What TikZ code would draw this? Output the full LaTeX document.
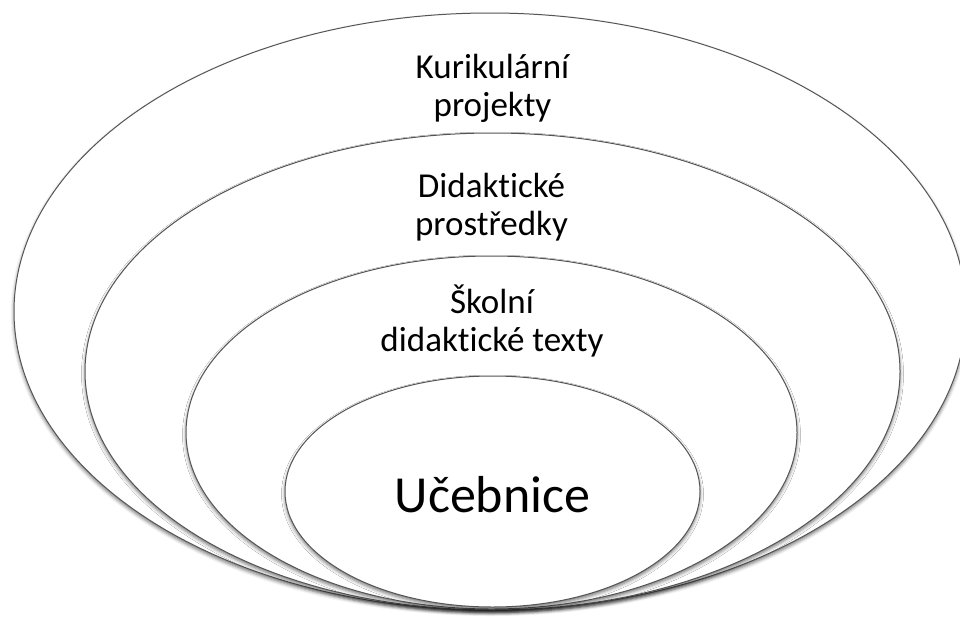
\documentclass[tikz,border=0pt]{standalone}
\usepackage{fontspec}
\setmainfont{Carlito}[Ligatures=NoCommon]
\usetikzlibrary{shapes.geometric,shadows.blur}
\definecolor{ringgray}{RGB}{85,85,85}
\begin{document}
\begin{tikzpicture}[x=1pt,y=-1pt,
  ring/.style={ellipse, draw=ringgray, line width=1pt, fill=white, inner sep=0pt, outer sep=0pt,
    blur shadow={shadow xshift=0pt, shadow yshift=-2.5pt, shadow blur radius=3.5pt, shadow opacity=55}},
  lbl/.style={font=\fontsize{35}{38}\selectfont, anchor=base, inner sep=0pt},
  biglbl/.style={font=\fontsize{52}{60}\selectfont, anchor=base, inner sep=0pt}]
\useasboundingbox (0,0) rectangle (960,616);
\node[ring, minimum width=952pt, minimum height=597pt] (e1) at (490,311.5) {};
\node[ring, minimum width=815pt, minimum height=477pt] (e2) at (492.5,371.5) {};
\node[ring, minimum width=611pt, minimum height=353pt] (e3) at (491.5,432.5) {};
\node[ring, minimum width=415pt, minimum height=231pt] (e4) at (492.5,491.5) {};
\node[lbl] (t1a) at (492.5,78) {Kurikulární};
\node[lbl] (t1b) at (492.5,116) {projekty};
\node[lbl] (t2a) at (491.5,197) {Didaktické};
\node[lbl] (t2b) at (491.5,235) {prostředky};
\node[lbl] (t3a) at (492,313) {Školní};
\node[lbl] (t3b) at (492,351) {didaktické texty};
\node[biglbl] (t4) at (492.5,512) {Učebnice};
\end{tikzpicture}
\end{document}
